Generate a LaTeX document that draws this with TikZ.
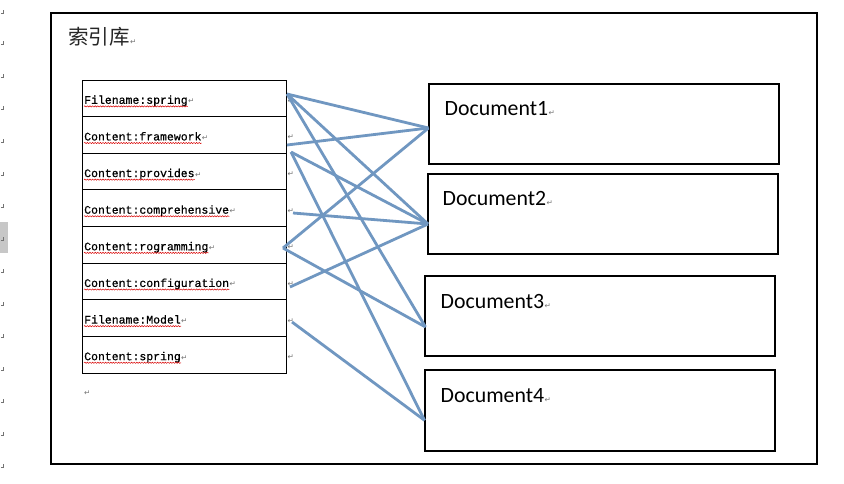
\documentclass[tikz,border=0pt]{standalone}
\usepackage{fontspec}
\setmainfont{Carlito}
\newfontfamily\cjkfont{Noto Sans CJK SC}
\newfontfamily\monofont[UprightFeatures={FakeBold=0.6}]{Liberation Mono}
\newfontfamily\markfont{DejaVu Sans}
\usetikzlibrary{decorations.pathmorphing}
\begin{document}
\begin{tikzpicture}[x=1pt,y=-1pt,
  frame/.style={draw=black,line width=2pt},
  rowbox/.style={draw=black,line width=0.8pt,minimum width=204pt,minimum height=36.6pt,inner sep=0pt,outer sep=0pt},
  rowtext/.style={font=\monofont\fontsize{11.5}{12}\selectfont,inner sep=0pt,anchor=base west},
  wavy/.style={draw=red!85!black,line width=0.5pt,decorate,decoration={snake,amplitude=0.6pt,segment length=2.6pt}},
  pmark/.style={font=\markfont\fontsize{7.5}{8}\selectfont,text=black!55,inner sep=0pt,anchor=base west},
  docbox/.style={draw=black,line width=2pt,inner sep=0pt,outer sep=0pt},
  doctext/.style={font=\fontsize{21.8}{24}\selectfont,inner sep=0pt,anchor=base west},
  link/.style={draw=linkblue,line width=2.8pt}
]
\definecolor{linkblue}{RGB}{112,151,193}
\useasboundingbox[fill=white] (0,0) rectangle (844,483);

% left margin marks
\fill[black!22] (0,222) rectangle (8,253);
\foreach \yy in {13,44,77,109,142,175,207,240,272,305,337,370,402,435,467}
  \draw[black!55,line width=0.6pt] (3,\yy-3) -- (3,\yy) -- (0.5,\yy);

% outer frame
\node[frame,minimum width=766pt,minimum height=451pt,inner sep=0pt,anchor=north west] (lib) at (50,12) {};
\node[font=\cjkfont\fontsize{20.5}{22}\selectfont,inner sep=0pt,anchor=base west,text=black!85] (title) at (68,44) {索引库};
\node[pmark] at (title.base east) {↵};

% table rows
\foreach \txt [count=\i] in {Filename:spring,Content:framework,Content:provides,Content:comprehensive,Content:rogramming,Content:configuration,Filename:Model,Content:spring}{
  \node[rowbox,anchor=north west] (r\i) at (82,{80+36.625*(\i-1)}) {};
  \node[rowtext] (t\i) at ([xshift=2pt,yshift=-5.5pt]r\i.west) {\txt};
  \draw[wavy] ([yshift=-2.6pt]t\i.base west) -- ([yshift=-2.6pt]t\i.base east);
  \node[pmark] at (t\i.base east) {↵};
  \node[pmark] (m\i) at ([xshift=1.5pt,yshift=-5pt]r\i.east) {↵};
}
\node[pmark] (below) at (84,395) {↵};

% documents
\node[docbox,minimum width=350pt,minimum height=80pt,anchor=north west] (d1) at (428.5,84) {};
\node[docbox,minimum width=349.5pt,minimum height=80pt,anchor=north west] (d2) at (428,174) {};
\node[docbox,minimum width=350pt,minimum height=80pt,anchor=north west] (d3) at (424.5,276) {};
\node[docbox,minimum width=350pt,minimum height=80.5pt,anchor=north west] (d4) at (424.5,370) {};
\foreach \k/\xx/\yy in {1/444.5/115,2/442.5/205,3/440.5/308,4/440.5/402}{
  \node[doctext] (dt\k) at (\xx,\yy) {Document\k};
  \node[pmark] at (dt\k.base east) {↵};
}

% connector end points
\coordinate (s1) at (287,94);
\coordinate (s2a) at (287,145);
\coordinate (s2b) at (291,152);
\coordinate (s4) at (293,213);
\coordinate (s5) at (283,248);
\coordinate (s6) at (290,287);
\coordinate (s7) at (292,322);
\coordinate (e1) at ([yshift=-4pt]d1.west);
\coordinate (e2) at ([yshift=-10pt]d2.west);
\coordinate (e3) at ([xshift=1pt,yshift=-11pt]d3.west);
\coordinate (e4) at ([yshift=-10pt]d4.west);

\draw[link] (s1) -- (e1);
\draw[link] (s1) -- (e2);
\draw[link] (s1) -- (e3);
\draw[link] (s2a) -- (e1);
\draw[link] (s2b) -- (e2);
\draw[link] (s2b) -- (e4);
\draw[link] (s4) -- (e2);
\draw[link] (s5) -- (e1);
\draw[link] (s5) -- (e3);
\draw[link] (s6) -- (e2);
\draw[link] (s7) -- (e4);
\end{tikzpicture}
\end{document}
